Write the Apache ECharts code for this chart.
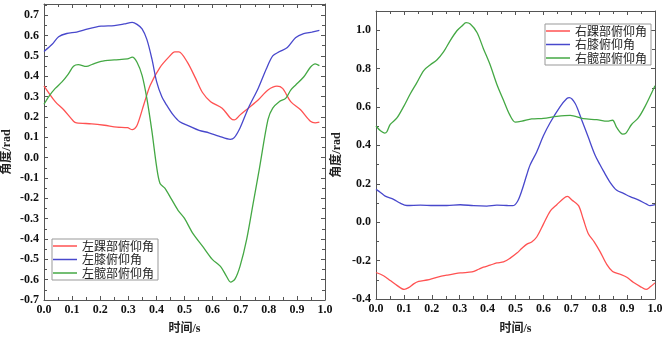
<!DOCTYPE html>
<html>
<head>
<meta charset="utf-8">
<script src="https://cdn.jsdelivr.net/npm/echarts@6/dist/echarts.min.js"></script>
<style>
  html, body { margin: 0; padding: 0; background: #fff; }
  #chart { width: 666px; height: 340px; }
</style>
</head>
<body>
<div id="chart"></div>
<script>
// 左侧：左踝/左膝/左髋俯仰角
var leftNames = ["左踝部俯仰角", "左膝俯仰角", "左髋部俯仰角"];
var rightNames = ["右踝部俯仰角", "右膝俯仰角", "右髋部俯仰角"];

var lAnkleT = [0, 0.04, 0.07, 0.105, 0.116, 0.17, 0.215, 0.26, 0.297, 0.314, 0.33, 0.355, 0.378, 0.413, 0.448, 0.465, 0.48, 0.51, 0.54, 0.564, 0.593, 0.634, 0.663, 0.677, 0.698, 0.727, 0.762, 0.797, 0.829, 0.849, 0.878, 0.913, 0.948, 0.965, 0.98];
var lAnkleV = [0.353, 0.275, 0.235, 0.179, 0.171, 0.166, 0.159, 0.15, 0.147, 0.137, 0.155, 0.26, 0.356, 0.444, 0.5, 0.52, 0.52, 0.469, 0.388, 0.32, 0.275, 0.243, 0.195, 0.185, 0.21, 0.243, 0.283, 0.332, 0.351, 0.34, 0.275, 0.235, 0.179, 0.171, 0.174];

var lKneeT = [0, 0.029, 0.052, 0.081, 0.116, 0.157, 0.203, 0.25, 0.285, 0.314, 0.331, 0.349, 0.366, 0.384, 0.401, 0.419, 0.436, 0.459, 0.483, 0.517, 0.552, 0.587, 0.622, 0.663, 0.677, 0.698, 0.727, 0.762, 0.791, 0.814, 0.837, 0.866, 0.895, 0.924, 0.953, 0.98];
var lKneeV = [0.522, 0.557, 0.594, 0.61, 0.617, 0.633, 0.646, 0.649, 0.657, 0.665, 0.655, 0.633, 0.581, 0.485, 0.372, 0.3, 0.259, 0.211, 0.176, 0.155, 0.134, 0.122, 0.106, 0.09, 0.098, 0.147, 0.243, 0.34, 0.436, 0.5, 0.52, 0.541, 0.589, 0.609, 0.617, 0.625];

var lHipT = [0, 0.017, 0.04, 0.064, 0.087, 0.105, 0.122, 0.151, 0.174, 0.203, 0.25, 0.297, 0.314, 0.331, 0.349, 0.366, 0.384, 0.401, 0.413, 0.43, 0.453, 0.477, 0.5, 0.529, 0.564, 0.599, 0.628, 0.648, 0.664, 0.68, 0.698, 0.721, 0.744, 0.767, 0.797, 0.814, 0.837, 0.86, 0.878, 0.895, 0.924, 0.948, 0.965, 0.98];
var lHipV = [0.262, 0.3, 0.34, 0.372, 0.412, 0.449, 0.457, 0.448, 0.46, 0.473, 0.48, 0.485, 0.494, 0.469, 0.404, 0.291, 0.13, -0.047, -0.127, -0.15, -0.203, -0.259, -0.299, -0.371, -0.435, -0.5, -0.535, -0.58, -0.612, -0.596, -0.532, -0.403, -0.227, -0.05, 0.187, 0.243, 0.275, 0.291, 0.332, 0.356, 0.396, 0.444, 0.461, 0.452];

// 右侧：右踝/右膝/右髋俯仰角
var rAnkleT = [0, 0.027, 0.051, 0.075, 0.101, 0.117, 0.135, 0.153, 0.183, 0.218, 0.254, 0.302, 0.344, 0.368, 0.385, 0.409, 0.433, 0.457, 0.481, 0.505, 0.523, 0.541, 0.558, 0.576, 0.6, 0.624, 0.648, 0.672, 0.686, 0.702, 0.726, 0.743, 0.761, 0.782, 0.803, 0.827, 0.848, 0.875, 0.899, 0.922, 0.946, 0.968, 0.982, 1.0];
var rAnkleV = [-0.262, -0.279, -0.304, -0.329, -0.35, -0.341, -0.321, -0.308, -0.301, -0.287, -0.276, -0.264, -0.259, -0.245, -0.234, -0.224, -0.212, -0.207, -0.187, -0.161, -0.136, -0.114, -0.103, -0.077, -0.01, 0.057, 0.091, 0.124, 0.134, 0.116, 0.086, 0.015, -0.06, -0.102, -0.153, -0.22, -0.257, -0.271, -0.287, -0.313, -0.334, -0.35, -0.338, -0.316];

var rKneeT = [0, 0.016, 0.033, 0.063, 0.087, 0.111, 0.159, 0.206, 0.254, 0.302, 0.35, 0.397, 0.433, 0.469, 0.49, 0.507, 0.523, 0.541, 0.553, 0.576, 0.6, 0.624, 0.66, 0.684, 0.693, 0.714, 0.737, 0.761, 0.785, 0.803, 0.815, 0.839, 0.863, 0.887, 0.911, 0.94, 0.97, 0.982, 1.0];
var rKneeV = [0.171, 0.155, 0.136, 0.119, 0.099, 0.087, 0.089, 0.087, 0.087, 0.091, 0.086, 0.084, 0.089, 0.087, 0.086, 0.108, 0.166, 0.25, 0.3, 0.366, 0.45, 0.518, 0.602, 0.644, 0.649, 0.618, 0.534, 0.442, 0.35, 0.299, 0.267, 0.208, 0.166, 0.15, 0.133, 0.116, 0.094, 0.086, 0.091];

var rHipT = [0, 0.016, 0.031, 0.039, 0.051, 0.075, 0.099, 0.123, 0.147, 0.171, 0.195, 0.218, 0.242, 0.266, 0.29, 0.308, 0.323, 0.338, 0.362, 0.385, 0.409, 0.433, 0.457, 0.479, 0.499, 0.523, 0.558, 0.6, 0.648, 0.696, 0.743, 0.791, 0.829, 0.848, 0.863, 0.884, 0.896, 0.916, 0.94, 0.964, 1.0];
var rHipV = [0.501, 0.476, 0.464, 0.471, 0.509, 0.543, 0.602, 0.669, 0.728, 0.79, 0.82, 0.845, 0.887, 0.946, 0.997, 1.022, 1.039, 1.032, 0.988, 0.904, 0.82, 0.719, 0.635, 0.56, 0.521, 0.526, 0.538, 0.541, 0.551, 0.556, 0.539, 0.534, 0.526, 0.531, 0.492, 0.459, 0.464, 0.509, 0.543, 0.602, 0.711];

var colors = ["#ff5252", "#4848cc", "#44a844"];
var numFont = "'Liberation Serif', 'Noto Sans CJK SC'";
var axisColor = "#555";

function pairs(t, v) {
  return t.map(function (x, i) { return [x, v[i]]; });
}

function makeX(gridIndex, position, showLabel) {
  return {
    type: "value",
    gridIndex: gridIndex,
    position: position,
    min: 0,
    max: 1,
    interval: 0.1,
    name: showLabel ? "时间/s" : "",
    nameLocation: "middle",
    nameGap: gridIndex === 0 ? 23 : 24,
    nameTextStyle: { fontFamily: numFont, fontWeight: "bold", fontSize: 12, color: "#222" },
    axisLine: { show: true, onZero: false, lineStyle: { color: axisColor } },
    axisTick: { show: true, inside: true, length: 4, lineStyle: { color: axisColor } },
    minorTick: { show: true, splitNumber: 2, length: 3, lineStyle: { color: axisColor } },
    axisLabel: {
      show: showLabel,
      margin: 4,
      fontFamily: numFont,
      fontWeight: "bold",
      fontSize: 12,
      color: "#111",
      formatter: function (v) { return v.toFixed(1); }
    },
    splitLine: { show: false }
  };
}

function makeY(gridIndex, position, showLabel, min, max, interval) {
  return {
    type: "value",
    gridIndex: gridIndex,
    position: position,
    min: min,
    max: max,
    interval: interval,
    name: showLabel ? "角度/rad" : "",
    nameLocation: "middle",
    nameGap: gridIndex === 0 ? 31 : 33,
    nameTextStyle: { fontFamily: numFont, fontWeight: "bold", fontSize: 12, color: "#222" },
    axisLine: { show: true, onZero: false, lineStyle: { color: axisColor } },
    axisTick: { show: true, inside: true, length: 4, lineStyle: { color: axisColor } },
    minorTick: { show: true, splitNumber: 2, length: 3, lineStyle: { color: axisColor } },
    axisLabel: {
      show: showLabel,
      margin: 5,
      showMaxLabel: false,
      fontFamily: numFont,
      fontWeight: "bold",
      fontSize: 12,
      color: "#111",
      formatter: function (v) { return v.toFixed(1); }
    },
    splitLine: { show: false }
  };
}

function makeSeries(name, data, idx, axisBase) {
  return {
    name: name,
    type: "line",
    xAxisIndex: axisBase,
    yAxisIndex: axisBase,
    data: data,
    symbol: "none",
    smooth: 0.3,
    color: colors[idx],
    lineStyle: { width: 1.3, color: colors[idx] }
  };
}

function makeLegend(names, left, top) {
  return {
    data: names,
    orient: "vertical",
    left: left,
    top: top,
    icon: "rect",
    itemWidth: 24,
    itemHeight: 1.5,
    itemGap: 1.5,
    padding: [1, 4, 1, 1],
    borderColor: "#999",
    borderWidth: 1,
    borderRadius: 0,
    textStyle: { fontFamily: "'Noto Sans CJK SC'", fontSize: 12, color: "#222", lineHeight: 11 }
  };
}

var myChart = echarts.init(document.getElementById("chart"));
myChart.setOption({
  animation: false,
  backgroundColor: "#fff",
  grid: [
    { left: 38, right: 341, top: 4, bottom: 35 },
    { left: 376, right: 11, top: 11, bottom: 31 }
  ],
  legend: [
    makeLegend(leftNames, 52, 239),
    makeLegend(rightNames, 545, 24)
  ],
  xAxis: [
    makeX(0, "bottom", true),
    makeX(1, "bottom", true),
    makeX(0, "top", false),
    makeX(1, "top", false)
  ],
  yAxis: [
    makeY(0, "left", true, -0.7, 0.755, 0.1),
    makeY(1, "left", true, -0.4, 1.1, 0.2),
    makeY(0, "right", false, -0.7, 0.755, 0.1),
    makeY(1, "right", false, -0.4, 1.1, 0.2)
  ],
  series: [
    makeSeries(leftNames[0], pairs(lAnkleT, lAnkleV), 0, 0),
    makeSeries(leftNames[1], pairs(lKneeT, lKneeV), 1, 0),
    makeSeries(leftNames[2], pairs(lHipT, lHipV), 2, 0),
    makeSeries(rightNames[0], pairs(rAnkleT, rAnkleV), 0, 1),
    makeSeries(rightNames[1], pairs(rKneeT, rKneeV), 1, 1),
    makeSeries(rightNames[2], pairs(rHipT, rHipV), 2, 1)
  ]
});
window.addEventListener("resize", function () {
  myChart.resize();
});
</script>
</body>
</html>
